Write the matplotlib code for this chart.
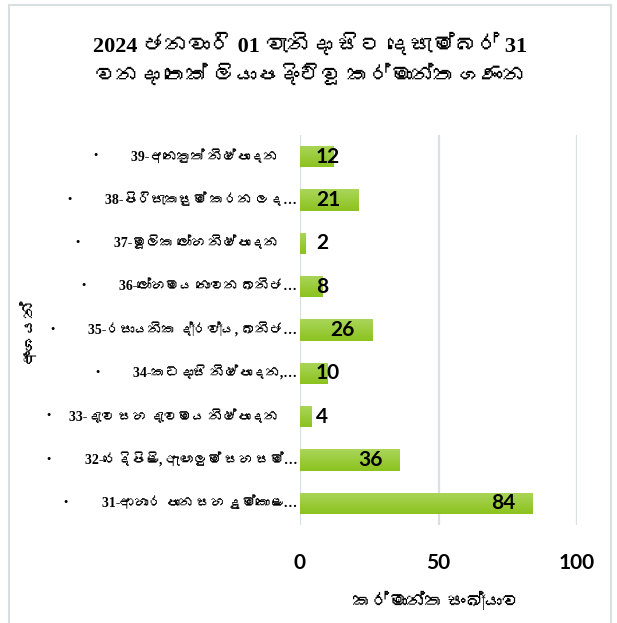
import matplotlib
matplotlib.use('Agg')
import matplotlib.pyplot as plt
from matplotlib import font_manager
from matplotlib.ft2font import FT2Font
from matplotlib.colors import LinearSegmentedColormap
from matplotlib.lines import Line2D
import numpy as np

# data (bottom to top, as drawn)
sectors = [
    "31-ආහාර පාන සහ දුම්කොළ…",
    "32-රෙදිපිළි, ඇඟලුම් සහ සම්…",
    "33-දැව සහ දැවමය නිෂ්පාදන",
    "34-කඩදාසි නිෂ්පාදන,…",
    "35-රසායනික ද්‍රව්‍ය, ඛනිජ…",
    "36-ලෝහමය නොවන ඛනිජ…",
    "37-මූලික ලෝහ නිෂ්පාදන",
    "38-පිරිසැකසුම් කරන ලද…",
    "39-අනෙකුත් නිෂ්පාදන",
]
counts = [84, 36, 4, 10, 26, 8, 2, 21, 12]
x_ticks = [0, 50, 100]

title_1 = "2024 ජනවාරි 01 වැනිදා සිට දෙසැම්බර් 31"
title_2 = "වනදා තෙක් ලියාපදිංචිවූ කර්මාන්ත ගණන"
x_label = "කර්මාන්ත සංඛ්‍යාව"
y_label = "අංශයන්"


def sinhala_fonts():
    # look for any installed font that has Sinhala glyphs
    found = []
    for f in font_manager.fontManager.ttflist:
        try:
            if 0x0D9A in FT2Font(f.fname).get_charmap():
                if f.name not in found:
                    found.append(f.name)
        except Exception:
            pass
    return found


sin = sinhala_fonts()
serif = ['Liberation Serif'] + sin + ['DejaVu Sans']
sans = ['Lato'] + sin + ['DejaVu Sans']

W, H = 617, 623
fig = plt.figure(figsize=(W / 100, H / 100), dpi=100)
ax = fig.add_axes([300 / W, 1 - 525 / H, 277 / W, 390 / H])

y = np.arange(len(counts))
bars = ax.barh(y, counts, height=0.49, color='#9ACB3A', zorder=3)

# light-to-dark green gradient inside each bar
cmap = LinearSegmentedColormap.from_list('g', ['#8cc21f', '#aad65a'])
grad = np.linspace(0, 1, 64).reshape(-1, 1)
for b in bars:
    x0, y0 = b.get_x(), b.get_y()
    im = ax.imshow(grad, cmap=cmap, aspect='auto', origin='lower',
                   extent=[x0, x0 + b.get_width(), y0, y0 + b.get_height()],
                   zorder=3)
    im.set_clip_path(b)

ax.set_xlim(0, 100)
ax.set_ylim(-0.5, len(counts) - 0.5)
ax.set_xticks(x_ticks)
ax.set_yticks([])
ax.grid(axis='x', color='#d9e0e1', lw=1.6, zorder=0)
for s in ax.spines.values():
    s.set_visible(False)
ax.tick_params(axis='x', length=0, pad=20)
for t in ax.get_xticklabels():
    t.set_fontfamily(sans)
    t.set_fontweight('bold')
    t.set_fontsize(15)

# category labels
cat_texts = []
for yi, lab in zip(y, sectors):
    off = 0 if lab.endswith('…') else 14
    t = ax.annotate(lab, xy=(0, yi), xycoords=('axes fraction', 'data'),
                    xytext=(-2 - off, 0), textcoords='offset points',
                    ha='right', va='center', fontsize=10,
                    fontfamily=serif, fontweight='bold')
    cat_texts.append(t)

# value labels
for yi, v in zip(y, counts):
    if v >= 14:
        ax.annotate(str(v), xy=(v, yi), xytext=(-12.5, 0), textcoords='offset points',
                    ha='right', va='center', fontsize=15, fontweight='bold',
                    fontfamily=sans, zorder=5)
    else:
        ax.annotate(str(v), xy=(0, yi), xytext=(11.5, 0), textcoords='offset points',
                    ha='left', va='center', fontsize=15, fontweight='bold',
                    fontfamily=sans, zorder=5)

# bullets in front of category labels
fig.canvas.draw()
r = fig.canvas.get_renderer()
for t in cat_texts:
    bb = t.get_window_extent(r)
    fig.text(max(bb.x0 - 36, 48) / W, (bb.y0 + bb.y1) / 2 / H, '·', ha='center',
             va='center', fontsize=13.5, fontfamily=serif, fontweight='bold')

fig.text(0.503, 1 - 45 / H, title_1, ha='center', va='center', fontsize=16,
         fontfamily=serif, fontweight='bold')
fig.text(0.503, 1 - 76 / H, title_2, ha='center', va='center', fontsize=15.5,
         fontfamily=serif)
fig.text(436 / W, 1 - 601 / H, x_label, ha='center', va='center', fontsize=13,
         fontfamily=serif)
fig.text(28 / W, 1 - 330 / H, y_label, ha='center', va='center', fontsize=12,
         fontfamily=serif, rotation=90)

# outer chart border
bc = '#d9dfe0'
fig.add_artist(Line2D([9 / W, 9 / W], [0, 1 - 5 / H], color=bc, lw=1.5))
fig.add_artist(Line2D([611 / W, 611 / W], [0, 1 - 5 / H], color=bc, lw=1.5))
fig.add_artist(Line2D([9 / W, 611 / W], [1 - 5 / H, 1 - 5 / H], color=bc, lw=1.5))

fig.savefig('out.png', dpi=100)
